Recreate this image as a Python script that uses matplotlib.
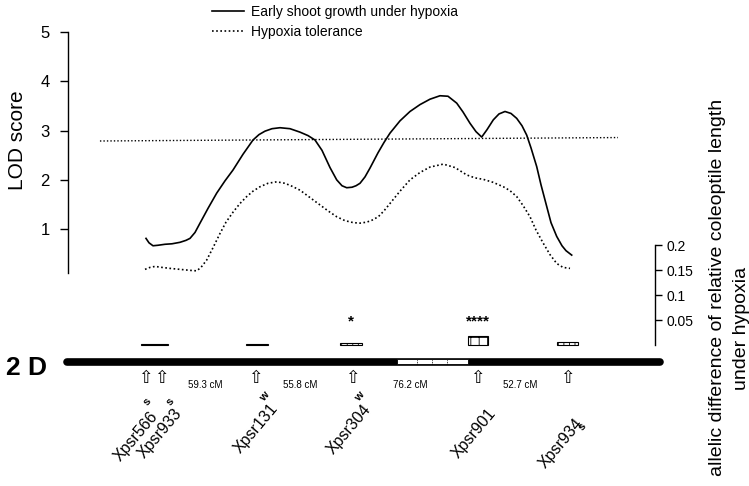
import matplotlib
matplotlib.use('Agg')
import matplotlib.pyplot as plt
from matplotlib.patches import Rectangle

plt.rcParams['font.family'] = ['Liberation Sans', 'DejaVu Sans']
plt.rcParams['hatch.linewidth'] = 0.6

# ---------------- data ----------------
# map position (cM-like units along chromosome 2D)
solid_x = [48.10, 49.95, 52.42, 55.50, 59.82, 64.14, 69.07, 72.77, 75.24, 78.32,
           81.41, 86.34, 91.70, 96.82, 101.76, 107.92, 114.09, 117.79, 121.49, 125.81,
           130.74, 136.91, 143.08, 148.01, 152.33, 156.64, 161.58, 165.71, 168.98, 171.88,
           175.15, 177.61, 180.08, 183.16, 186.25, 191.18, 194.88, 198.58, 204.75, 210.91,
           217.08, 223.25, 229.42, 234.35, 239.72, 243.60, 247.92, 251.62, 255.13, 258.40,
           262.29, 265.80, 269.50, 273.20, 276.72, 279.99, 282.88, 285.54, 289.05, 291.70,
           295.22, 297.87, 301.39, 304.65, 307.12, 310.64]
solid_lod = [0.81, 0.72, 0.66, 0.67, 0.69, 0.70, 0.73, 0.77, 0.81, 0.93,
             1.12, 1.42, 1.73, 1.98, 2.20, 2.52, 2.81, 2.92, 2.99, 3.04,
             3.06, 3.04, 2.97, 2.90, 2.81, 2.60, 2.25, 2.00, 1.88, 1.84,
             1.85, 1.88, 1.93, 2.06, 2.24, 2.55, 2.76, 2.95, 3.20, 3.39,
             3.53, 3.64, 3.71, 3.70, 3.56, 3.38, 3.15, 2.98, 2.87, 3.02,
             3.22, 3.34, 3.39, 3.35, 3.25, 3.10, 2.91, 2.65, 2.27, 1.90,
             1.46, 1.13, 0.85, 0.66, 0.56, 0.47]

dot_x = [47.49, 50.57, 53.65, 57.97, 62.90, 69.07, 75.24, 79.37, 82.02, 85.54,
         89.42, 93.74, 97.44, 101.94, 106.07, 110.21, 114.09, 118.41, 123.34, 128.71,
         133.83, 138.14, 143.08, 149.24, 155.41, 160.34, 165.71, 170.83, 175.95, 180.08,
         184.21, 187.48, 191.37, 194.88, 198.58, 204.75, 210.91, 217.08, 223.25, 231.45,
         238.67, 245.88, 251.00, 256.12, 262.10, 268.45, 272.59, 276.72, 280.60, 284.92,
         288.62, 293.12, 297.25, 301.39, 305.27, 309.59]
dot_lod = [0.18, 0.22, 0.24, 0.22, 0.20, 0.18, 0.16, 0.15, 0.22, 0.37,
           0.62, 0.91, 1.14, 1.35, 1.52, 1.66, 1.77, 1.86, 1.93, 1.96,
           1.93, 1.87, 1.79, 1.64, 1.49, 1.37, 1.25, 1.17, 1.13, 1.12,
           1.14, 1.18, 1.25, 1.37, 1.52, 1.77, 2.00, 2.15, 2.26, 2.32,
           2.25, 2.10, 2.04, 2.01, 1.95, 1.86, 1.78, 1.66, 1.48, 1.25,
           0.98, 0.71, 0.48, 0.30, 0.22, 0.20]

thresh_x = [19.7, 339.2]
thresh_lod = [2.79, 2.86]

markers = ['Xpsr566', 'Xpsr933', 'Xpsr131', 'Xpsr304', 'Xpsr901', 'Xpsr934']
marker_pos = [47.5, 57.5, 115.3, 175.1, 252.2, 307.7]
marker_tag = ['s', 's', 'w', 'w', '', 's']

interval_labels = ['59.3 cM', '55.8 cM', '76.2 cM', '52.7 cM']
interval_pos = [84.5, 143.1, 210.9, 278.8]

bar_pos = [53.4, 116.5, 174.5, 252.9, 308.0]
bar_val = [0.003, 0.002, 0.004, 0.018, 0.006]
bar_sig = ['', '', '*', '****', '']

chrom_span = [-0.6, 365.1]
centromere = [202.9, 246.7]
centromere_div = [215.2, 224.5, 233.7]

lod_ticks = [1, 2, 3, 4, 5]
diff_ticks = [0.05, 0.1, 0.15, 0.2]
diff_ticklabels = ['0.05', '0.1', '0.15', '0.2']

# ---------------- layout helpers ----------------
W, H = 749, 486
PXX = 1.6215          # pixels per map unit
def fx(px):
    return px / W
def fy(py):
    return 1 - py / H
def dy(py):           # pixel row -> lower-axes data
    return (345 - py) / 500.0

fig = plt.figure(figsize=(W / 100, H / 100), dpi=100)

ax = fig.add_axes([fx(68), fy(273.3), fx(655) - fx(68), fy(32.3) - fy(273.3)])
axb = fig.add_axes([fx(68), fy(400), fx(655) - fx(68), fy(245) - fy(400)], sharex=ax)
for a in (ax, axb):
    a.patch.set_alpha(0)

ax.set_xlim(0, 587 / PXX)
ax.set_ylim(0.1, 5)

# LOD curves
l1, = ax.plot(solid_x, solid_lod, color='black', lw=1.2, solid_joinstyle='round')
l2, = ax.plot(dot_x, dot_lod, color='black', lw=1.2, linestyle=(0, (1, 1.5)))
ax.plot(thresh_x, thresh_lod, color='black', lw=1.0, linestyle=(0, (1, 1.5)), clip_on=False)

for s in ['top', 'right', 'bottom']:
    ax.spines[s].set_visible(False)
ax.spines['left'].set_linewidth(1.0)
ax.set_yticks(lod_ticks)
ax.set_yticklabels([str(t) for t in lod_ticks])
ax.tick_params(axis='y', direction='out', length=6, width=1.0, labelsize=12, pad=7)
ax.tick_params(axis='x', bottom=False, labelbottom=False)

leg = ax.legend([l1, l2], ['Early shoot growth under hypoxia', 'Hypoxia tolerance'],
                frameon=False, loc='upper left', bbox_to_anchor=(fx(212), fy(5)),
                bbox_transform=fig.transFigure, borderpad=0, borderaxespad=0,
                handlelength=2.3, handletextpad=0.5, labelspacing=0.4, fontsize=10)

# lower axes: bars + chromosome
axb.set_ylim(dy(400), dy(245))
for s in ['top', 'left', 'bottom']:
    axb.spines[s].set_visible(False)
axb.spines['right'].set_bounds(0, 0.2)
axb.spines['right'].set_linewidth(1.0)
axb.yaxis.tick_right()
axb.set_yticks(diff_ticks)
axb.set_yticklabels(diff_ticklabels)
axb.tick_params(axis='y', direction='out', length=5, width=1.0, labelsize=10, pad=3)
axb.tick_params(axis='x', bottom=False, labelbottom=False)

bar_w = [16.7, 13.5, 13.6, 12.3, 12.9]
hatches = ['|||', '|||', '|||', '++', '|||']
for p, v, w, h in zip(bar_pos, bar_val, bar_w, hatches):
    axb.bar(p, v, width=w, bottom=0, color='white', edgecolor='black',
            linewidth=0.8, hatch=h, zorder=3)
for p, sig in zip(bar_pos, bar_sig):
    if sig:
        axb.text(p, dy(321), sig, ha='center', va='center', fontsize=11,
                 fontweight='bold')

# chromosome
ych = dy(361.5)
axb.plot(chrom_span, [ych, ych], color='black', lw=5.5, solid_capstyle='round',
         clip_on=False, zorder=2)
axb.add_patch(Rectangle((centromere[0], dy(364)), centromere[1] - centromere[0],
                        dy(358.5) - dy(364), facecolor='white', edgecolor='black',
                        linewidth=0.6, zorder=4, clip_on=False))
for d in centromere_div:
    axb.plot([d, d], [dy(364), dy(358.5)], color='black', lw=0.6,
             linestyle=(0, (1, 1)), zorder=5, clip_on=False)

# marker arrows & labels
label_off = [(4, 409), (12, 406), (14, 401), (11, 402), (10, 406), (8, 416)]
tag_off = [(2, 402), (9, 402), (10, 397), (8, 397), (0, 0), (15, 427)]
for p, name, tag, lo, to in zip(marker_pos, markers, marker_tag, label_off, tag_off):
    axb.text(p, dy(377.5), '\u21e7', family='DejaVu Sans', fontsize=12.5,
             ha='center', va='center', clip_on=False)
    axb.text(p + lo[0] / PXX, dy(lo[1]), name, rotation=50, rotation_mode='anchor',
             ha='right', va='top', fontsize=11.5, clip_on=False)
    if tag:
        axb.text(p + to[0] / PXX, dy(to[1]), tag, rotation=50, rotation_mode='anchor',
                 ha='center', va='center', fontsize=8, fontweight='bold', clip_on=False)

for p, lab in zip(interval_pos, interval_labels):
    axb.text(p, dy(385), lab, ha='center', va='center', fontsize=7, clip_on=False)

# figure-level text
fig.text(fx(17.5), fy(140), 'LOD score', rotation=90, ha='center', va='center', fontsize=15)
fig.text(fx(27), fy(367.5), '2 D', ha='center', va='center', fontsize=19, fontweight='bold')
fig.text(fx(718), fy(287), 'allelic difference of relative coleoptile length',
         rotation=90, ha='center', va='center', fontsize=14)
fig.text(fx(741), fy(328), 'under hypoxia', rotation=90, ha='center', va='center',
         fontsize=14)

fig.savefig('out.png', dpi=100)
